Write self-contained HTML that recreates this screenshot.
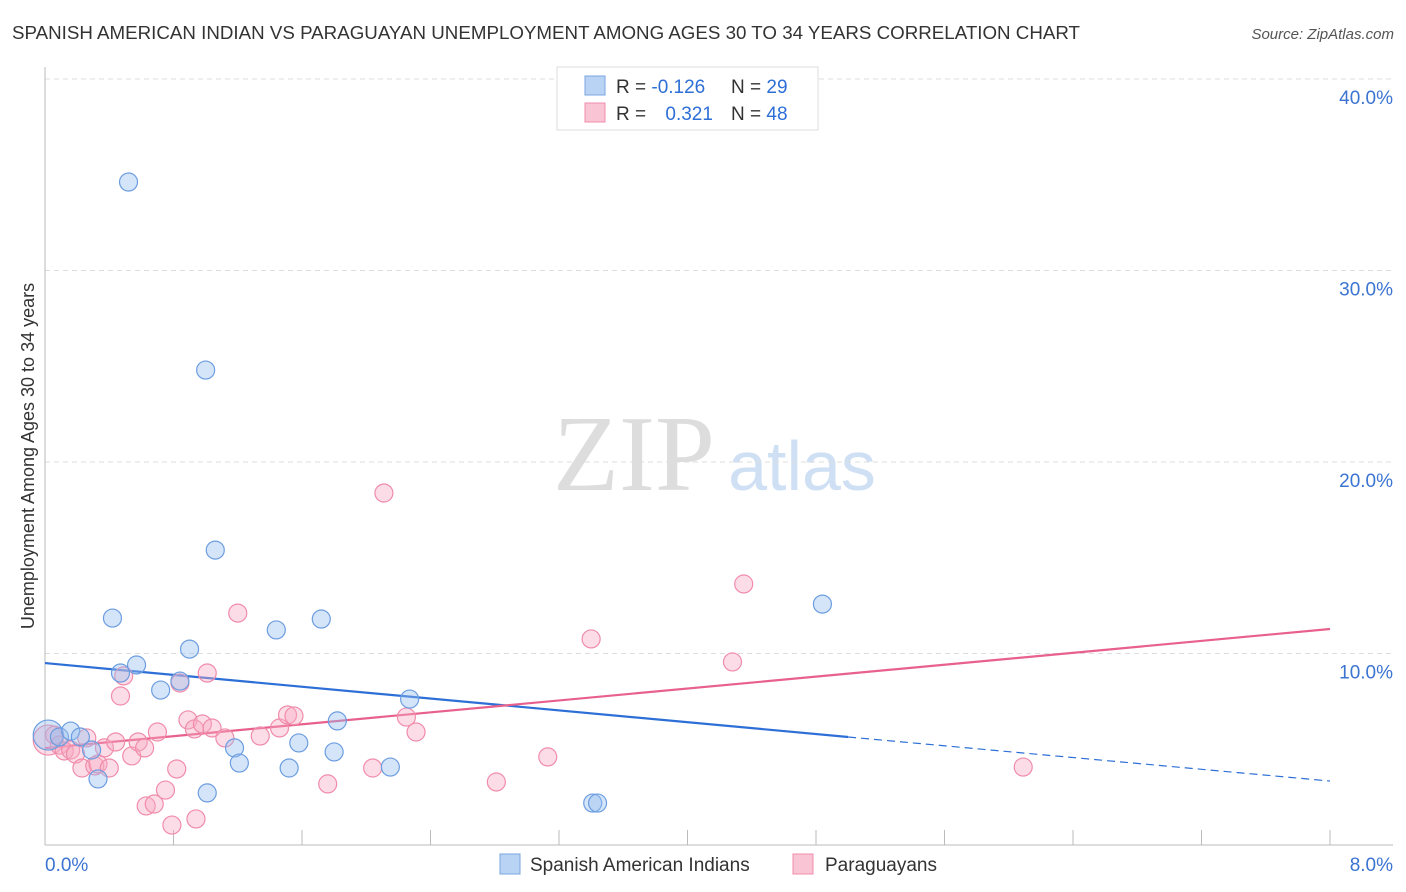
<!DOCTYPE html>
<html><head><meta charset="utf-8"><style>
body{margin:0;background:#fff;font-family:"Liberation Sans",sans-serif;}
#wrap{position:relative;width:1406px;height:892px;overflow:hidden;}
</style></head><body>
<div id="wrap">
<svg id="svg" width="1406" height="892" xmlns="http://www.w3.org/2000/svg" style="position:absolute;left:0;top:0">
<text x="12" y="39" font-size="18.5" fill="#333" textLength="1068" lengthAdjust="spacingAndGlyphs">SPANISH AMERICAN INDIAN VS PARAGUAYAN UNEMPLOYMENT AMONG AGES 30 TO 34 YEARS CORRELATION CHART</text>
<text x="1394" y="39" font-size="15" fill="#555" font-style="italic" text-anchor="end">Source: ZipAtlas.com</text>
<text x="634" y="490" font-size="108" fill="#ddd" font-family="Liberation Serif,serif" text-anchor="middle">ZIP</text>
<text x="802" y="490" font-size="70" fill="#cfe0f4" text-anchor="middle">atlas</text>
<text transform="translate(34,456) rotate(-90)" font-size="18" fill="#333" text-anchor="middle">Unemployment Among Ages 30 to 34 years</text>
<g id="grid"></g><g id="axes"></g><g id="lines"></g><g id="pts"></g>
<g>
<rect x="557" y="67" width="261" height="63" fill="#fff" stroke="#ddd"/>
<rect x="585" y="76" width="20" height="19" fill="#b9d3f5" stroke="#7aa6e0"/>
<rect x="585" y="103" width="20" height="19" fill="#f9c4d4" stroke="#f08cab"/>
<text x="616" y="93" font-size="19" fill="#333">R = <tspan fill="#2d6fd6">-0.126</tspan></text>
<text x="731" y="93" font-size="19" fill="#333">N = <tspan fill="#2d6fd6">29</tspan></text>
<text x="616" y="120" font-size="19" fill="#333">R = <tspan fill="#2d6fd6" dx="14">0.321</tspan></text>
<text x="731" y="120" font-size="19" fill="#333">N = <tspan fill="#2d6fd6">48</tspan></text>
</g>
<g>
<rect x="500" y="854" width="20" height="20" fill="#b9d3f5" stroke="#7aa6e0"/>
<text x="530" y="871" font-size="19" fill="#333">Spanish American Indians</text>
<rect x="793" y="854" width="20" height="20" fill="#f9c4d4" stroke="#f08cab"/>
<text x="825" y="871" font-size="19" fill="#333">Paraguayans</text>
</g>
</svg>
</div>
<script>
const yTicks=[10,20,30,40];
const yTickLabels=["10.0%","20.0%","30.0%","40.0%"];
const xTickLabels=["0.0%","8.0%"];
const blueX=[0.02,0.09,0.16,0.22,0.29,0.33,0.42,0.52,0.57,0.47,0.72,0.84,0.90,1.00,1.01,1.06,1.18,1.21,1.44,1.52,1.58,1.72,1.80,1.82,2.15,2.27,3.41,3.44,4.84];
const blueY=[5.74,5.64,5.95,5.64,4.96,3.45,11.85,34.62,9.40,8.98,8.09,8.56,10.23,24.80,2.72,15.40,5.07,4.28,11.23,4.02,5.33,11.80,4.86,6.48,4.07,7.62,2.19,2.19,12.58];
const pinkX=[0.02,0.06,0.09,0.12,0.16,0.19,0.23,0.26,0.31,0.33,0.37,0.40,0.44,0.47,0.49,0.54,0.58,0.62,0.63,0.68,0.70,0.75,0.79,0.82,0.84,0.89,0.93,0.94,0.98,1.01,1.04,1.12,1.20,1.34,1.46,1.51,1.55,1.76,2.04,2.11,2.25,2.31,2.81,3.13,3.40,4.28,4.35,6.09];
const pinkY=[5.48,5.74,5.22,4.91,4.96,4.75,4.02,5.59,4.13,4.23,5.07,4.02,5.38,7.78,8.83,4.65,5.38,5.07,2.04,2.14,5.90,2.87,1.04,3.97,8.46,6.53,6.06,1.36,6.32,8.98,6.11,5.59,12.11,5.69,6.11,6.79,6.74,3.19,4.02,18.38,6.68,5.90,3.29,4.60,10.76,9.56,13.63,4.07];
const blueTrendX=[0,5,8];
const blueTrendY=[9.5,5.64,3.34];
const pinkTrendX=[0,8];
const pinkTrendY=[5.06,11.28];
const NS="http://www.w3.org/2000/svg";
const X=v=>45+v*160.625;
const Y=v=>845-v*19.15;
function mk(tag,attrs,parent){const e=document.createElementNS(NS,tag);for(const k in attrs)e.setAttribute(k,attrs[k]);document.getElementById(parent).appendChild(e);return e;}
yTicks.forEach((t,i)=>{
 const g=mk('line',{x1:45,x2:1393,y1:Y(t),y2:Y(t),stroke:'#ddd','stroke-dasharray':'5,4'},'grid');
 
 
 const l=mk('text',{x:1393,y:Y(t)+25,'font-size':19,fill:'#3b74d1','text-anchor':'end'},'grid');
 l.textContent=yTickLabels[i];
 
 
});
const ax=mk('line',{x1:45,x2:45,y1:67,y2:845,stroke:'#bbb'},'axes');


const bx=mk('line',{x1:45,x2:1393,y1:845,y2:845,stroke:'#bbb'},'axes');


for(let i=1;i<=10;i++){const t=mk('line',{x1:X(i*0.8),x2:X(i*0.8),y1:830,y2:845,stroke:'#bbb'},'axes');
 
 }
[[0,'start'],[8,'end']].forEach((p,i)=>{const t=mk('text',{x:i?1393:45,y:871,'font-size':19,fill:'#3b74d1','text-anchor':p[1]},'axes');t.textContent=xTickLabels[i];
 
 });
function pts(xs,ys,fill,stroke,name){xs.forEach((x,i)=>{const c=mk('circle',{cx:X(x),cy:Y(ys[i]),r:i===0?15:9,fill:fill,stroke:stroke,'stroke-width':1.2},'pts');
 
 });}
pts(pinkX,pinkY,'rgba(248,170,195,0.4)','#f08cab','paraguayan-point');
pts(blueX,blueY,'rgba(150,190,240,0.4)','#6c9de0','spanish-american-indian-point');
const b1=mk('line',{x1:X(blueTrendX[0]),y1:Y(blueTrendY[0]),x2:X(blueTrendX[1]),y2:Y(blueTrendY[1]),stroke:'#2d6fd6','stroke-width':2.2},'lines');


const b2=mk('line',{x1:X(blueTrendX[1]),y1:Y(blueTrendY[1]),x2:X(blueTrendX[2]),y2:Y(blueTrendY[2]),stroke:'#2d6fd6','stroke-width':1.2,'stroke-dasharray':'8,5'},'lines');


const p1=mk('line',{x1:X(pinkTrendX[0]),y1:Y(pinkTrendY[0]),x2:X(pinkTrendX[1]),y2:Y(pinkTrendY[1]),stroke:'#e8608c','stroke-width':2.2},'lines');


</script>
</body></html>
